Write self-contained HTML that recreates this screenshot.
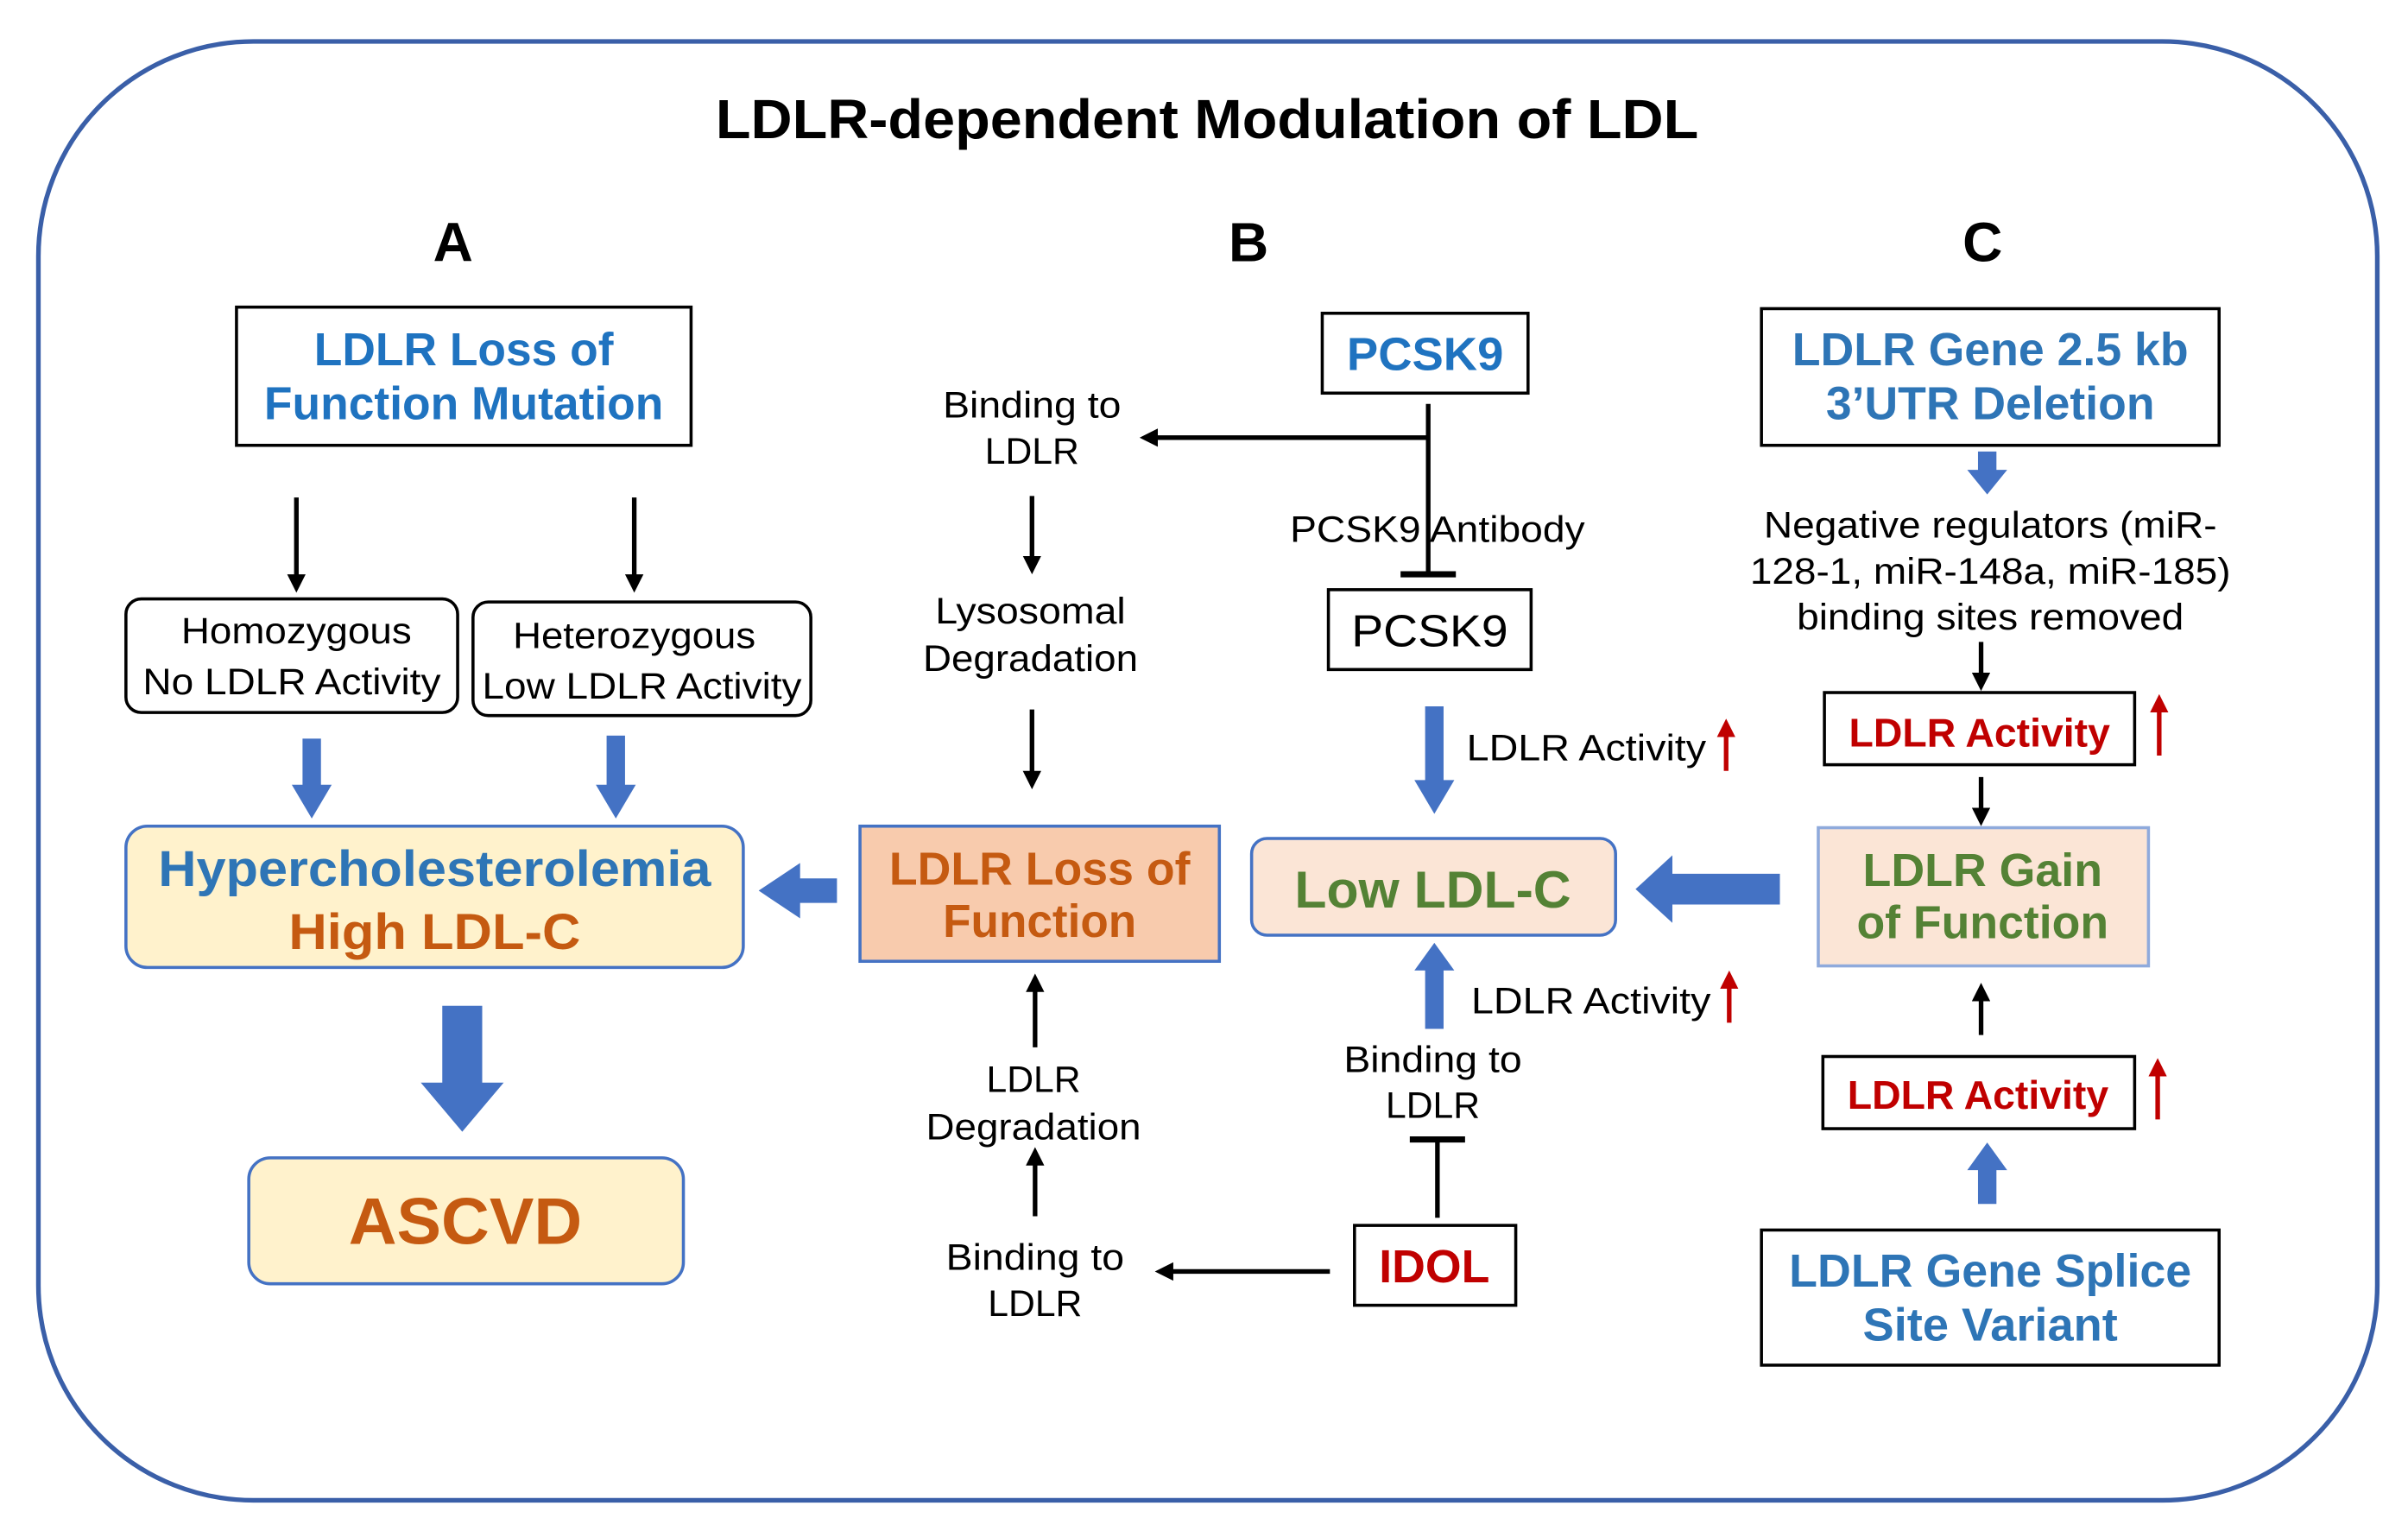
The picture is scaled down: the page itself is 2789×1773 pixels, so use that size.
<!DOCTYPE html>
<html><head><meta charset="utf-8"><style>
html,body{margin:0;padding:0;background:#fff}
svg{display:block}
text{font-family:"Liberation Sans",sans-serif;text-anchor:middle}
.b{font-weight:bold}
</style></head><body>
<svg width="2789" height="1773" viewBox="0 0 1568 997" preserveAspectRatio="none" xmlns="http://www.w3.org/2000/svg">
<defs>
<marker id="ah" markerWidth="12" markerHeight="12" refX="8" refY="6" orient="auto" markerUnits="userSpaceOnUse"><path d="M0,0 L12,6 L0,12 z" fill="#000"/></marker>
<marker id="rh" markerWidth="12" markerHeight="12" refX="6" refY="6" orient="auto" markerUnits="userSpaceOnUse"><path d="M0,0 L12,6 L0,12 z" fill="#c00000"/></marker>
</defs>
<rect x="25" y="27" width="1523" height="950" rx="140" fill="none" stroke="#3a5fa8" stroke-width="3"/>
<text x="786" y="90" class="b" font-size="36" textLength="640" lengthAdjust="spacingAndGlyphs">LDLR-dependent Modulation of LDL</text>
<text x="295" y="170" class="b" font-size="36">A</text>
<text x="813" y="170" class="b" font-size="36">B</text>
<text x="1291" y="170" class="b" font-size="36">C</text>

<!-- A -->
<rect x="154" y="200" width="296" height="90" fill="#fff" stroke="#000" stroke-width="2"/>
<text x="302" y="238" class="b" font-size="30" fill="#1f73c0">LDLR Loss of</text>
<text x="302" y="273" class="b" font-size="30" fill="#1f73c0" textLength="260" lengthAdjust="spacingAndGlyphs">Function Mutation</text>
<line x1="193" y1="324" x2="193" y2="382" stroke="#000" stroke-width="3" marker-end="url(#ah)"/>
<line x1="413" y1="324" x2="413" y2="382" stroke="#000" stroke-width="3" marker-end="url(#ah)"/>
<rect x="82" y="390" width="216" height="74" rx="10" fill="#fff" stroke="#000" stroke-width="2"/>
<text x="193" y="419" font-size="24" textLength="150" lengthAdjust="spacingAndGlyphs">Homozygous</text>
<text x="190" y="452" font-size="24" textLength="194" lengthAdjust="spacingAndGlyphs">No LDLR Activity</text>
<rect x="308" y="392" width="220" height="74" rx="10" fill="#fff" stroke="#000" stroke-width="2"/>
<text x="413" y="422" font-size="24" textLength="158" lengthAdjust="spacingAndGlyphs">Heterozygous</text>
<text x="418" y="455" font-size="24" textLength="208" lengthAdjust="spacingAndGlyphs">Low LDLR Activity</text>
<path d="M197,481 h12 v30 h7 l-13,22 l-13,-22 h7 z" fill="#4472c4"/>
<path d="M395,479 h12 v32 h7 l-13,22 l-13,-22 h7 z" fill="#4472c4"/>
<rect x="82" y="538" width="402" height="92" rx="14" fill="#fff2cc" stroke="#4472c4" stroke-width="2"/>
<text x="283" y="577" class="b" font-size="33" fill="#2e75b6" textLength="360" lengthAdjust="spacingAndGlyphs">Hypercholesterolemia</text>
<text x="283" y="618" class="b" font-size="33" fill="#c55a11" textLength="190" lengthAdjust="spacingAndGlyphs">High LDL-C</text>
<path d="M288,655 h26 v50 h14 l-27,32 l-27,-32 h14 z" fill="#4472c4"/>
<rect x="162" y="754" width="283" height="82" rx="14" fill="#fff2cc" stroke="#4472c4" stroke-width="2"/>
<text x="303" y="810" class="b" font-size="43" fill="#c55a11" textLength="152" lengthAdjust="spacingAndGlyphs">ASCVD</text>
<path d="M545,572 v16 h-24 v10 l-27,-18 l27,-18 v10 z" fill="#4472c4"/>

<!-- B -->
<rect x="560" y="538" width="234" height="88" fill="#f8cbad" stroke="#4472c4" stroke-width="2"/>
<text x="677" y="576" class="b" font-size="30" fill="#c55a11" textLength="196" lengthAdjust="spacingAndGlyphs">LDLR Loss of</text>
<text x="677" y="610" class="b" font-size="30" fill="#c55a11" textLength="126" lengthAdjust="spacingAndGlyphs">Function</text>
<text x="672" y="272" font-size="24" textLength="116" lengthAdjust="spacingAndGlyphs">Binding to</text>
<text x="672" y="302" font-size="24">LDLR</text>
<line x1="672" y1="323" x2="672" y2="370" stroke="#000" stroke-width="3" marker-end="url(#ah)"/>
<text x="671" y="406" font-size="24" textLength="124" lengthAdjust="spacingAndGlyphs">Lysosomal</text>
<text x="671" y="437" font-size="24" textLength="140" lengthAdjust="spacingAndGlyphs">Degradation</text>
<line x1="672" y1="462" x2="672" y2="510" stroke="#000" stroke-width="3" marker-end="url(#ah)"/>
<rect x="861" y="204" width="134" height="52" fill="#fff" stroke="#000" stroke-width="2"/>
<text x="928" y="241" class="b" font-size="30" fill="#1f73c0" textLength="102" lengthAdjust="spacingAndGlyphs">PCSK9</text>
<line x1="930" y1="263" x2="930" y2="374" stroke="#000" stroke-width="3"/>
<line x1="912" y1="374" x2="948" y2="374" stroke="#000" stroke-width="4"/>
<line x1="930" y1="285" x2="746" y2="285" stroke="#000" stroke-width="3" marker-end="url(#ah)"/>
<text x="936" y="353" font-size="24" textLength="192" lengthAdjust="spacingAndGlyphs">PCSK9 Antibody</text>
<rect x="865" y="384" width="132" height="52" fill="#fff" stroke="#000" stroke-width="2"/>
<text x="931" y="421" font-size="29" textLength="102" lengthAdjust="spacingAndGlyphs">PCSK9</text>
<path d="M928,460 h12 v48 h7 l-13,22 l-13,-22 h7 z" fill="#4472c4"/>
<text x="1033" y="495" font-size="24" textLength="156" lengthAdjust="spacingAndGlyphs">LDLR Activity</text>
<line x1="1124" y1="502" x2="1124" y2="474" stroke="#c00000" stroke-width="3" marker-end="url(#rh)"/>
<rect x="815" y="546" width="237" height="63" rx="10" fill="#fbe5d6" stroke="#4472c4" stroke-width="2"/>
<text x="933" y="591" class="b" font-size="34" fill="#548235" textLength="180" lengthAdjust="spacingAndGlyphs">Low LDL-C</text>
<path d="M1159,569 v20 h-70 v12 l-24,-22 l24,-22 v12 z" fill="#4472c4"/>
<path d="M928,670 h12 v-38 h7 l-13,-18 l-13,18 h7 z" fill="#4472c4"/>
<text x="1036" y="660" font-size="24" textLength="156" lengthAdjust="spacingAndGlyphs">LDLR Activity</text>
<line x1="1126" y1="666" x2="1126" y2="638" stroke="#c00000" stroke-width="3" marker-end="url(#rh)"/>
<text x="933" y="698" font-size="24" textLength="116" lengthAdjust="spacingAndGlyphs">Binding to</text>
<text x="933" y="728" font-size="24">LDLR</text>
<line x1="918" y1="742" x2="954" y2="742" stroke="#000" stroke-width="4"/>
<line x1="936" y1="742" x2="936" y2="793" stroke="#000" stroke-width="3"/>
<rect x="882" y="798" width="105" height="52" fill="#fff" stroke="#000" stroke-width="2"/>
<text x="934" y="835" class="b" font-size="30" fill="#c00000" textLength="72" lengthAdjust="spacingAndGlyphs">IDOL</text>
<line x1="866" y1="828" x2="756" y2="828" stroke="#000" stroke-width="3" marker-end="url(#ah)"/>
<text x="674" y="827" font-size="24" textLength="116" lengthAdjust="spacingAndGlyphs">Binding to</text>
<text x="674" y="857" font-size="24">LDLR</text>
<line x1="674" y1="792" x2="674" y2="751" stroke="#000" stroke-width="3" marker-end="url(#ah)"/>
<text x="673" y="711" font-size="24">LDLR</text>
<text x="673" y="742" font-size="24" textLength="140" lengthAdjust="spacingAndGlyphs">Degradation</text>
<line x1="674" y1="682" x2="674" y2="638" stroke="#000" stroke-width="3" marker-end="url(#ah)"/>

<!-- C -->
<rect x="1147" y="201" width="298" height="89" fill="#fff" stroke="#000" stroke-width="2"/>
<text x="1296" y="238" class="b" font-size="30" fill="#2e75b6" textLength="258" lengthAdjust="spacingAndGlyphs">LDLR Gene 2.5 kb</text>
<text x="1296" y="273" class="b" font-size="30" fill="#2e75b6" textLength="214" lengthAdjust="spacingAndGlyphs">3’UTR Deletion</text>
<path d="M1288,294 h12 v12 h7 l-13,16 l-13,-16 h7 z" fill="#4472c4"/>
<text x="1296" y="350" font-size="24" textLength="295" lengthAdjust="spacingAndGlyphs">Negative regulators (miR-</text>
<text x="1296" y="380" font-size="24" textLength="313" lengthAdjust="spacingAndGlyphs">128-1, miR-148a, miR-185)</text>
<text x="1296" y="410" font-size="24" textLength="252" lengthAdjust="spacingAndGlyphs">binding sites removed</text>
<line x1="1290" y1="418" x2="1290" y2="446" stroke="#000" stroke-width="3" marker-end="url(#ah)"/>
<rect x="1188" y="451" width="202" height="47" fill="#fff" stroke="#000" stroke-width="2"/>
<text x="1289" y="486" class="b" font-size="26" fill="#c00000" textLength="170" lengthAdjust="spacingAndGlyphs">LDLR Activity</text>
<line x1="1406" y1="492" x2="1406" y2="458" stroke="#c00000" stroke-width="3" marker-end="url(#rh)"/>
<line x1="1290" y1="506" x2="1290" y2="534" stroke="#000" stroke-width="3" marker-end="url(#ah)"/>
<rect x="1184" y="539" width="215" height="90" fill="#fbe5d6" stroke="#8faadc" stroke-width="2"/>
<text x="1291" y="577" class="b" font-size="30" fill="#548235" textLength="156" lengthAdjust="spacingAndGlyphs">LDLR Gain</text>
<text x="1291" y="611" class="b" font-size="30" fill="#548235" textLength="164" lengthAdjust="spacingAndGlyphs">of Function</text>
<line x1="1290" y1="674" x2="1290" y2="644" stroke="#000" stroke-width="3" marker-end="url(#ah)"/>
<rect x="1187" y="688" width="203" height="47" fill="#fff" stroke="#000" stroke-width="2"/>
<text x="1288" y="722" class="b" font-size="26" fill="#c00000" textLength="170" lengthAdjust="spacingAndGlyphs">LDLR Activity</text>
<line x1="1405" y1="729" x2="1405" y2="695" stroke="#c00000" stroke-width="3" marker-end="url(#rh)"/>
<path d="M1288,784 h12 v-22 h7 l-13,-18 l-13,18 h7 z" fill="#4472c4"/>
<rect x="1147" y="801" width="298" height="88" fill="#fff" stroke="#000" stroke-width="2"/>
<text x="1296" y="838" class="b" font-size="30" fill="#2e75b6" textLength="262" lengthAdjust="spacingAndGlyphs">LDLR Gene Splice</text>
<text x="1296" y="873" class="b" font-size="30" fill="#2e75b6" textLength="166" lengthAdjust="spacingAndGlyphs">Site Variant</text>
</svg>
</body></html>
